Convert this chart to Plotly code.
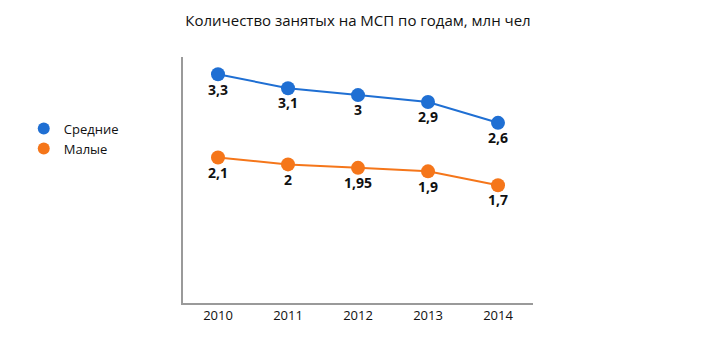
import plotly.graph_objects as go

years = ["2010", "2011", "2012", "2013", "2014"]
medium = [3.3, 3.1, 3.0, 2.9, 2.6]
small = [2.1, 2.0, 1.95, 1.9, 1.7]
series_names = ["Средние", "Малые"]
colors = ["#1f6fd3", "#f5761a"]

def lab(vals):
    return [f"{v:g}".replace(".", ",") for v in vals]

fig = go.Figure()
for name, vals, col in zip(series_names, [medium, small], colors):
    fig.add_trace(go.Scatter(
        x=years, y=vals, name=name, mode="lines+markers+text",
        line=dict(color=col, width=2),
        marker=dict(color=col, size=14),
        text=lab(vals), textposition="bottom center",
        textfont=dict(family="Open Sans", size=14, color="#111"),
        texttemplate="<b>%{text}</b>",
        showlegend=False, legendgroup=name,
    ))
    # legend entry showing only the marker
    fig.add_trace(go.Scatter(
        x=[None], y=[None], name=name, mode="markers",
        marker=dict(color=col, size=14), legendgroup=name,
    ))

fig.update_layout(
    width=728, height=351,
    margin=dict(l=183, r=195, t=57, b=48),
    paper_bgcolor="white", plot_bgcolor="white",
    font=dict(family="Open Sans", color="#222"),
    title=dict(text="Количество занятых на МСП по годам, млн чел",
               x=0.5, xref="paper", y=0.94, yanchor="middle",
               font=dict(size=15, color="#111")),
    showlegend=True,
    legend=dict(x=-0.455, xanchor="left", y=0.77, yanchor="top",
                font=dict(size=13, color="#111"), bgcolor="rgba(0,0,0,0)",
                itemsizing="constant", tracegroupgap=0),
    xaxis=dict(type="category", range=[-0.5, 4.5], showline=True,
               linecolor="#9a9a9a", linewidth=1.5, showgrid=False,
               ticks="", tickfont=dict(size=13, color="#111"), zeroline=False),
    yaxis=dict(range=[0, 3.55], showline=True, linecolor="#9a9a9a",
               linewidth=1.5, showgrid=False, showticklabels=False,
               ticks="", zeroline=False),
)

fig.write_html("out.html")
